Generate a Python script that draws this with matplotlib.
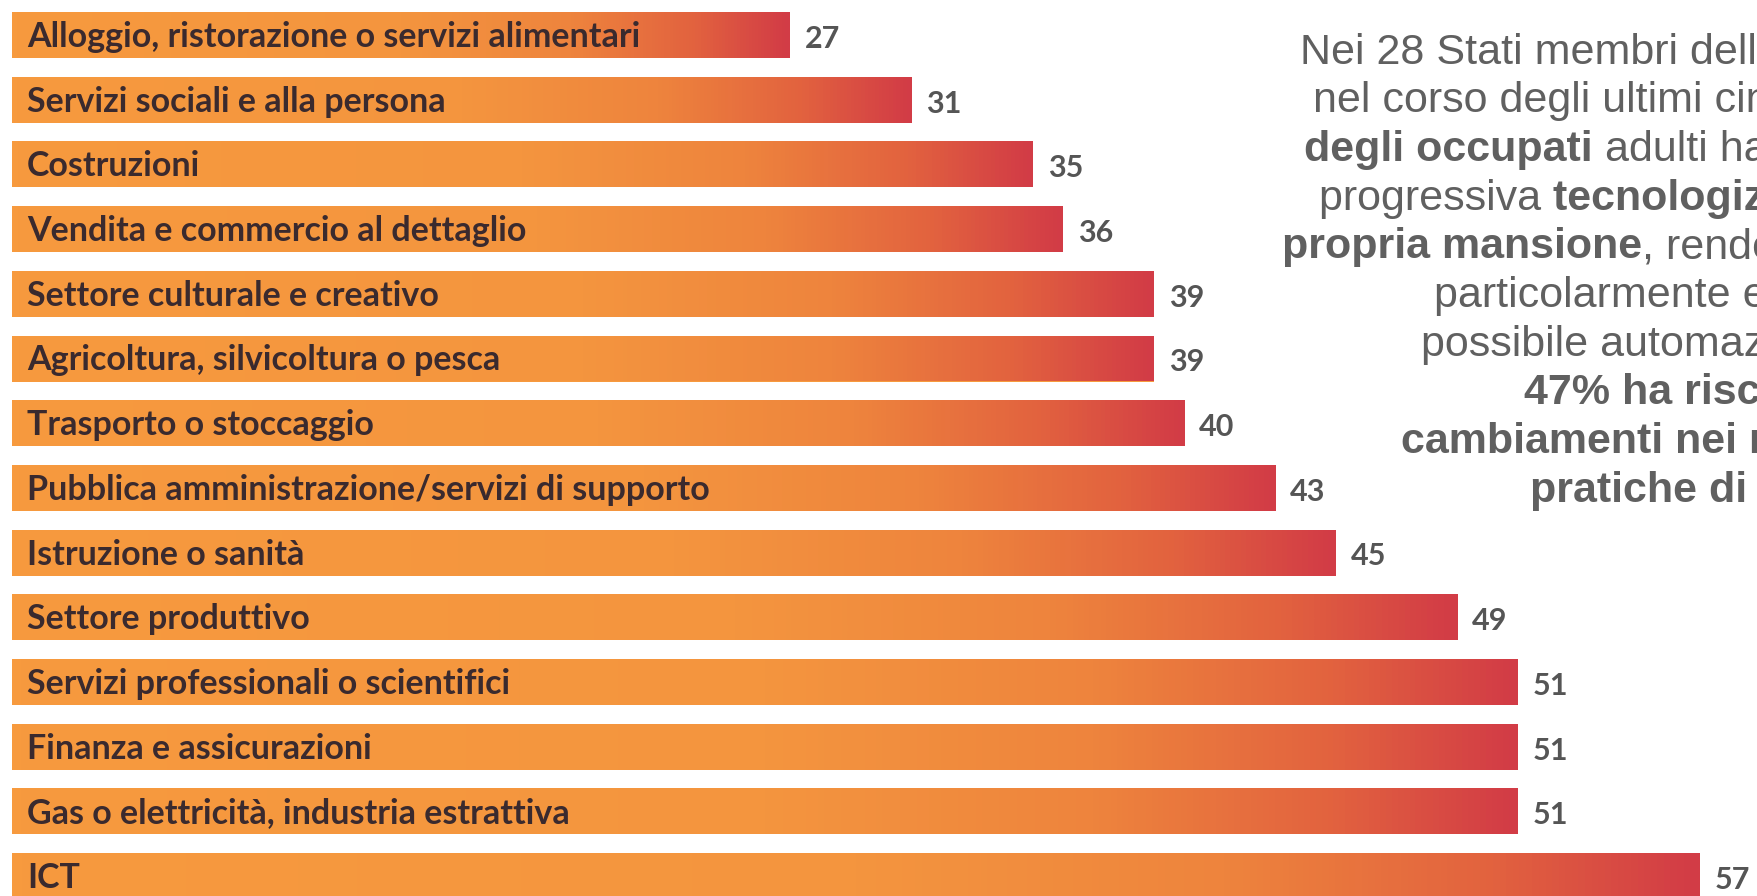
import matplotlib
matplotlib.use("Agg")
import matplotlib.pyplot as plt
import numpy as np
from matplotlib.colors import LinearSegmentedColormap

# share of workers (%) who saw technology change in their job, by sector
sectors = [
    "Alloggio, ristorazione o servizi alimentari",
    "Servizi sociali e alla persona",
    "Costruzioni",
    "Vendita e commercio al dettaglio",
    "Settore culturale e creativo",
    "Agricoltura, silvicoltura o pesca",
    "Trasporto o stoccaggio",
    "Pubblica amministrazione/servizi di supporto",
    "Istruzione o sanità",
    "Settore produttivo",
    "Servizi professionali o scientifici",
    "Finanza e assicurazioni",
    "Gas o elettricità, industria estrattiva",
    "ICT",
]
values = [27, 31, 35, 36, 39, 39, 40, 43, 45, 49, 51, 51, 51, 57]

# side note, one entry per line: list of (text, bold) pieces
note_lines = [
    [("Nei 28 Stati membri dell'UE,", False)],
    [("nel corso degli ultimi cinque anni, il 43%", False)],
    [("degli occupati", True), (" adulti ha visto una", False)],
    [("progressiva ", False), ("tecnologizzazione della", True)],
    [("propria mansione", True), (", rendendola", False)],
    [("particolarmente esposta alla", False)],
    [("possibile automazione, mentre il", False)],
    [("47% ha riscontrato", True)],
    [("cambiamenti nei metodi e nelle", True)],
    [("pratiche di lavoro", True)],
]
note_x = [1300, 1313, 1304, 1319, 1282, 1434, 1421, 1524, 1401, 1530]

W, H = 1757, 896
fig = plt.figure(figsize=(W / 100, H / 100), dpi=100)
fig.patch.set_facecolor("white")

px_unit = 30.33      # pixels per percentage point
x_start = 1.35       # where the visible bars begin
left_px = 12
ax = fig.add_axes([left_px / W, 0, 1 - left_px / W, 1])
pitch = 64.7
ax.axis("off")

grad = LinearSegmentedColormap.from_list("bar", [
    (0.0, "#F79A3E"), (0.5, "#F4953F"), (0.72, "#EE843D"),
    (0.88, "#E2623F"), (1.0, "#D23C46")])
ramp = np.linspace(0, 1, 256).reshape(1, -1)

h = 46 / pitch
y = np.arange(len(sectors))
bars = ax.barh(y, values, height=h, color="#F79A3E", linewidth=0)
for i, (b, v) in enumerate(zip(bars, values)):
    img = ax.imshow(ramp, cmap=grad, aspect="auto", interpolation="bilinear",
                    extent=(x_start, v, i + h / 2, i - h / 2), zorder=2)
    img.set_clip_path(b)
    ax.text(x_start + 15 / px_unit, i + 0.03, sectors[i], fontsize=24.5,
            family="Lato", fontweight="bold", color="#3a2a2e",
            va="center", ha="left", zorder=3)
    ax.text(v + 15 / px_unit, i + 0.06, str(v), fontsize=22, family="Lato",
            fontweight="bold", color="#555555", va="center", ha="left",
            zorder=3)

ax.set_xlim(x_start, x_start + (W - left_px) / px_unit)
ax.set_ylim((H - 35) / pitch, -35 / pitch)

# side note, left aligned per line, running off the right edge
base0 = 63.5
for k, (pieces, xl) in enumerate(zip(note_lines, note_x)):
    yb = 1 - (base0 + k * 48.7) / H
    prev = None
    for txt, bold in pieces:
        kw = dict(fontsize=31, family="Liberation Sans", color="#606060",
                  fontweight="bold" if bold else "normal")
        if prev is None:
            prev = fig.text(xl / W, yb, txt, ha="left", va="baseline", **kw)
        else:
            prev = ax.annotate(txt, xy=(1, 0), xycoords=prev, ha="left",
                               va="bottom", annotation_clip=False, **kw)

fig.savefig("out.png", dpi=100, facecolor="white")
